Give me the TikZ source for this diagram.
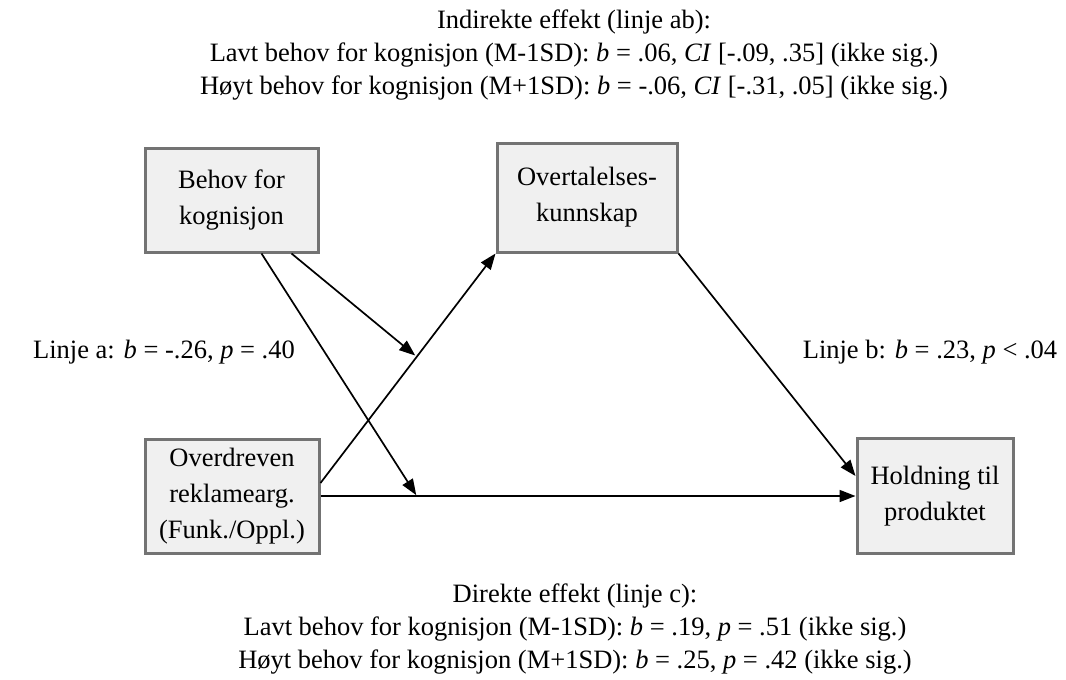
\documentclass[tikz,border=0pt]{standalone}
\usepackage{fontspec}
\setmainfont{Liberation Serif}
\usetikzlibrary{arrows.meta,calc}
\begin{document}
\begin{tikzpicture}[x=1pt,y=-1pt]
\tikzstyle{every node}+=[font=\fontsize{26.5}{33}\selectfont]
\tikzstyle{var}=[draw=gray!90!black,fill=gray!12,line width=3pt,align=center,
  inner sep=0pt,font=\fontsize{26.5}{36}\selectfont]
\tikzstyle{path}=[line width=1.7pt,-{Triangle[length=16pt,width=12pt]}]
\useasboundingbox (0,0) rectangle (1066,680);
\node [var,minimum width=173,minimum height=104] (behov) at (231.5,200) {Behov for\\kognisjon};
\node [var,minimum width=180,minimum height=109] (overt) at (587,197.5) {Overtalelses-\\kunnskap};
\node [var,minimum width=174,minimum height=114] (overdr) at (232,496) {Overdreven\\reklamearg.\\(Funk./Oppl.)};
\node [var,minimum width=156,minimum height=115] (holdn) at (935,496) {Holdning til\\produktet};
% linje a, b og c
\draw [path] ($(overdr.east)+(0,-13)$) -- coordinate[pos=0.55] (amid) (overt.south west);
\draw [path] (overt.south east) -- ($(holdn.west)+(0,-20)$);
\draw [path] (overdr.east) -- coordinate[pos=0.18] (cmid) (holdn.west);
% moderator
\draw [path,shorten >=2pt] ([xshift=60]behov.south) -- (amid);
\draw [path,shorten >=1pt] ([xshift=30]behov.south) -- (cmid);
\node (la) at (164,352) {Linje a: \textit{b} = -.26, \textit{p} = .40};
\node (lb) at (930,352) {Linje b: \textit{b} = .23, \textit{p} < .04};
\node [align=center] (ind) at (574,55) {Indirekte effekt (linje ab):\\
  Lavt behov for kognisjon (M-1SD): \textit{b} = .06, \textit{CI} [-.09, .35] (ikke sig.)\\
  Høyt behov for kognisjon (M+1SD): \textit{b} = -.06, \textit{CI} [-.31, .05] (ikke sig.)};
\node [align=center] (dir) at (575,629) {Direkte effekt (linje c):\\
  Lavt behov for kognisjon (M-1SD): \textit{b} = .19, \textit{p} = .51 (ikke sig.)\\
  Høyt behov for kognisjon (M+1SD): \textit{b} = .25, \textit{p} = .42 (ikke sig.)};
\end{tikzpicture}
\end{document}
